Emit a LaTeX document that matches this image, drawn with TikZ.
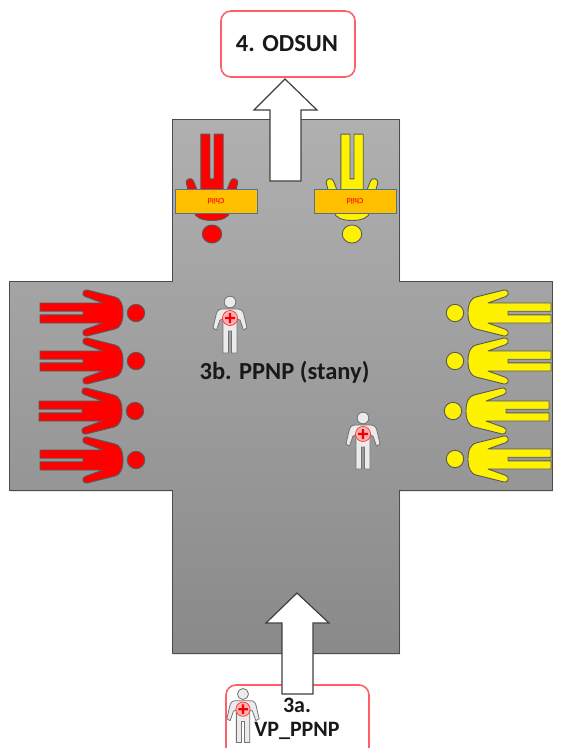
\documentclass[tikz,border=0pt]{standalone}
\usepackage{fontspec}
\setmainfont{Carlito}
\usetikzlibrary{shadows}
\definecolor{boxred}{HTML}{FF6068}
\definecolor{boxorange}{HTML}{FFC000}
\definecolor{boxblue}{HTML}{4F7299}
\tikzset{
  % head at the origin, legs along +x
  personfig/.pic={
    \draw[line width=0.9pt, draw=black!65, fill=\pgfkeysvalueof{/tikz/personcolor}]
      (0,0) circle (8.7);
    \draw[line width=0.9pt, draw=black!65, fill=\pgfkeysvalueof{/tikz/personcolor}, line join=round]
      (13,0) .. controls (13,-9) and (16,-15) .. (21,-16)
      -- (49,-23) .. controls (53,-24) and (55,-18) .. (51,-16.5)
      -- (33,-10) -- (96,-10) -- (96,-1.8) -- (53,-1.8) -- (53,1.8) -- (96,1.8) -- (96,10)
      -- (33,10) -- (51,16.5) .. controls (55,18) and (53,24) .. (49,23)
      -- (21,16) .. controls (16,15) and (13,9) .. (13,0) -- cycle;
  },
  personcolor/.initial=red,
  % head centre at the origin, feet towards +y
  medicfig/.pic={
    \draw[line width=0.8pt, draw=black!55, fill=black!8] (0,0) circle (5.8);
    \draw[line width=0.8pt, draw=black!55, fill=black!8, line join=round]
      (-8,7) -- (8,7) .. controls (12,7.5) and (13,9) .. (14,13)
      -- (17,26) -- (13.5,28) -- (10,18) -- (7,17) -- (7,51) -- (1.5,51) -- (1.5,29)
      -- (-1.5,29) -- (-1.5,51) -- (-7,51) -- (-7,17) -- (-10,18) -- (-13.5,28) -- (-17,26)
      -- (-14,13) .. controls (-13,9) and (-12,7.5) .. (-8,7) -- cycle;
    \draw[red!80, line width=0.7pt, fill=red!30] (0,16) circle (7.5);
    \fill[red!95!black] (-5,14.8) rectangle (5,17.2) (-1.2,11) rectangle (1.2,21);
  },
  titlebox/.style={draw=boxred, line width=1.6pt, fill=white, rounded corners=10pt},
  blockarrow/.style={draw=black!75, line width=1.2pt, fill=white, line join=miter},
  lbl/.style={font=\fontsize{24.5}{26}\selectfont\bfseries, text=black!90, inner sep=0pt},
  lblsmall/.style={lbl, font=\fontsize{22}{24}\selectfont\bfseries},
  childbox/.style={draw=boxblue, line width=0.9pt, fill=boxorange, minimum width=82pt,
    minimum height=24pt, inner sep=0pt, text=red!85!boxorange,
    font=\fontsize{8}{9}\selectfont\bfseries, rotate=180},
}
\begin{document}
\begin{tikzpicture}[x=1pt, y=-1pt]
  \clip (0,0) rectangle (561,748);
  \fill[white] (0,0) rectangle (561,748);

  % the square
  \draw[line width=1pt, draw=black!70, top color=black!31, bottom color=black!46, drop shadow={shadow xshift=1pt, shadow yshift=-1.5pt, opacity=0.3}]
    (172,119) -- (399,119) -- (399,281) -- (552,281) -- (552,490) -- (399,490) -- (399,653)
    -- (172,653) -- (172,490) -- (9,490) -- (9,281) -- (172,281) -- cycle;

  \draw[titlebox] (221,11) rectangle (355,77);
  \node[lbl] (odsun) at (287,44) {4. ODSUN};
  \draw[titlebox] (226,685) rectangle (369,770);

  \draw[blockarrow] (285,79) -- (317,110) -- (301,110) -- (301,181) -- (270,181) -- (270,110) -- (254,110) -- cycle;
  \draw[blockarrow] (297,593) -- (329,623) -- (313,623) -- (313,694) -- (282,694) -- (282,623) -- (266,623) -- cycle;

  % rows of people
  \foreach \px/\py in {136/313, 136/361, 135/411, 136/460}
    \pic[personcolor=red, rotate=180] at (\px,\py) {personfig};
  \foreach \px/\py in {455/313, 455/361, 453/411, 455/459}
    \pic[personcolor=yellow] at (\px,\py) {personfig};

  % the two at the top
  \pic[personcolor=red, rotate=90, xscale=1.04, yscale=1.12] at (212,234) {personfig};
  \pic[personcolor=yellow, rotate=90, xscale=1.04, yscale=1.12] at (352,234) {personfig};
  \node[childbox] (childred) at (216,201) {Child};
  \node[childbox] (childyellow) at (355,201) {Child};

  \pic at (230,302) {medicfig};
  \pic at (363,418) {medicfig};
  \pic[scale=0.95] at (243,694) {medicfig};

  \node[lbl] (stany) at (284.5,372) {3b. PPNP (stany)};
  \node[lblsmall] (vpa) at (297,705) {3a.};
  \node[lblsmall] (vpb) at (297,731) {VP\_PPNP};
\end{tikzpicture}
\end{document}
